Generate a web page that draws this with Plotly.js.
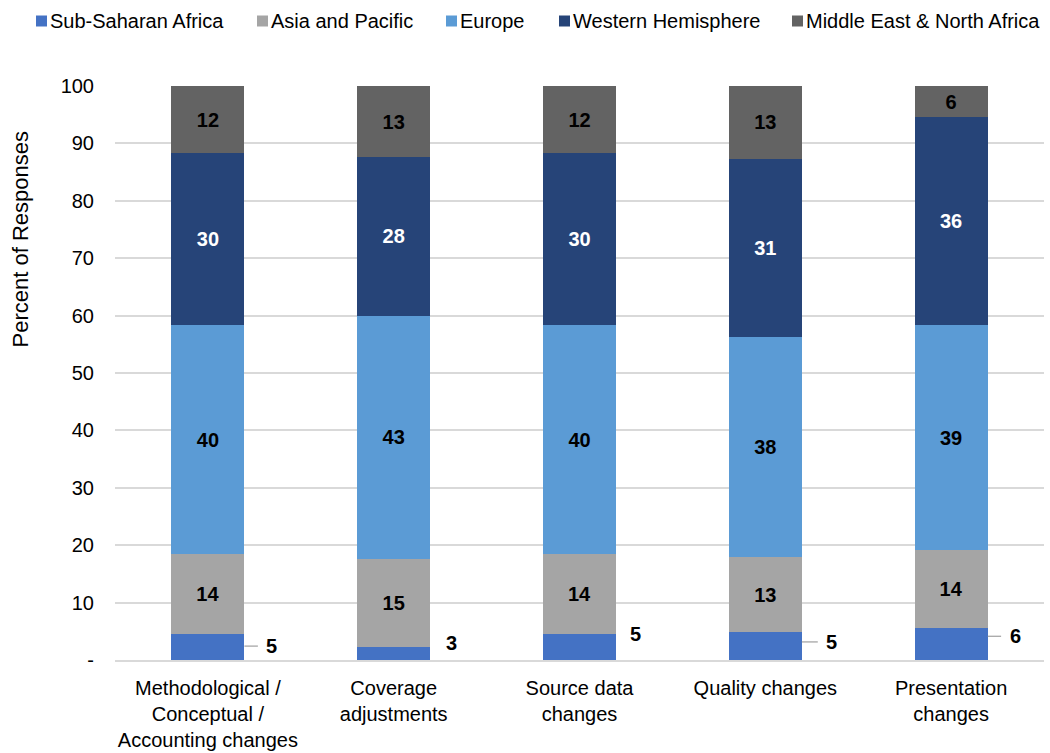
<!DOCTYPE html>
<html>
<head>
<meta charset="utf-8">
<script src="https://cdn.plot.ly/plotly-3.0.1.min.js"></script>
<style>
  html, body { margin: 0; padding: 0; background: #fff; }
  #chart { width: 1050px; height: 753px; }
</style>
</head>
<body>
<div id="chart"></div>
<script>
// ---- Data ----
const categories = [
  "Methodological /<br>Conceptual /<br>Accounting changes",
  "Coverage<br>adjustments",
  "Source data<br>changes",
  "Quality changes",
  "Presentation<br>changes"
];
const seriesNames = ["Sub-Saharan Africa", "Asia and Pacific", "Europe", "Western Hemisphere", "Middle East & North Africa"];

const subSaharanAfrica   = [4.5, 2.2, 4.5, 4.9, 5.5];
const asiaPacific        = [14.0, 15.4, 14.0, 13.0, 13.7];
const europe             = [39.8, 42.4, 39.8, 38.4, 39.1];
const westernHemisphere  = [30.0, 27.6, 30.0, 31.0, 36.3];
const middleEastNAfrica  = [11.7, 12.4, 11.7, 12.7, 5.4];

const subSaharanAfricaLabels  = ["5", "3", "5", "5", "6"];
const asiaPacificLabels       = ["14", "15", "14", "13", "14"];
const europeLabels            = ["40", "43", "40", "38", "39"];
const westernHemisphereLabels = ["30", "28", "30", "31", "36"];
const middleEastNAfricaLabels = ["12", "13", "12", "13", "6"];

const yTickVals = [0, 10, 20, 30, 40, 50, 60, 70, 80, 90, 100];
const yTickText = ["-", "10", "20", "30", "40", "50", "60", "70", "80", "90", "100"];

// ---- Style ----
const colors = ["#4472C4", "#A5A5A5", "#5B9BD5", "#264478", "#636363"];
const labelColors = ["#000000", "#000000", "#000000", "#FFFFFF", "#000000"];
const FONT = "Liberation Sans, Arial, sans-serif";
const W = 1050, H = 753;
const M = { l: 115, r: 6, t: 86, b: 93 };

// outside-label styling for the small Sub-Saharan Africa segments
const ssaLeader = [true, false, false, true, true];
const ssaDx     = [64, 58, 55.5, 66.5, 64];
const ssaDy     = [1, 11, 13, 4, 8];
const halfBarPx = 36.5;

// legend layout (pixel positions of the swatches)
const legendSwatchX = [36, 257, 446, 559, 792];
const legendY = 21, swatch = 11;

const values = [subSaharanAfrica, asiaPacific, europe, westernHemisphere, middleEastNAfrica];
const labels = [subSaharanAfricaLabels, asiaPacificLabels, europeLabels, westernHemisphereLabels, middleEastNAfricaLabels];

const traces = values.map((v, k) => ({
  type: "bar",
  name: seriesNames[k],
  x: categories,
  y: v,
  text: labels[k],
  texttemplate: "%{text}",
  textposition: k === 0 ? "none" : "inside",
  insidetextanchor: "middle",
  constraintext: "none",
  textfont: { family: FONT, size: 20, color: labelColors[k], weight: "bold" },
  marker: { color: colors[k], line: { width: 0 } },
  hoverinfo: "x+y+name",
  showlegend: false
}));

const annotations = subSaharanAfrica.map((v, i) => {
  const a = {
    x: categories[i],
    y: v / 2,
    xref: "x",
    yref: "y",
    text: subSaharanAfricaLabels[i],
    font: { family: FONT, size: 20, color: "#000000", weight: "bold" },
    yshift: ssaDy[i]
  };
  if (ssaLeader[i]) {
    a.showarrow = true;
    a.arrowhead = 0;
    a.arrowwidth = 1;
    a.arrowcolor = "#8c8c8c";
    a.xshift = halfBarPx;
    a.ax = ssaDx[i] - halfBarPx;
    a.ay = 0;
    a.borderpad = 8;
  } else {
    a.showarrow = false;
    a.xshift = ssaDx[i];
  }
  return a;
});

// y-axis title
annotations.push({
  xref: "paper", yref: "paper",
  x: -0.102, y: 0.733,
  xanchor: "center", yanchor: "middle",
  text: "Percent of Responses",
  textangle: -90,
  showarrow: false,
  font: { family: FONT, size: 22, color: "#000000" }
});

// legend: swatches (shapes) + texts (annotations)
const pw = W - M.l - M.r, ph = H - M.t - M.b;
const px2x = p => (p - M.l) / pw;
const py2y = p => (H - M.b - p) / ph;
const shapes = [];
seriesNames.forEach((name, k) => {
  const x0 = legendSwatchX[k];
  shapes.push({
    type: "rect", xref: "paper", yref: "paper",
    x0: px2x(x0), x1: px2x(x0 + swatch),
    y0: py2y(legendY + swatch / 2), y1: py2y(legendY - swatch / 2),
    fillcolor: colors[k], line: { width: 0 }
  });
  annotations.push({
    xref: "paper", yref: "paper",
    x: px2x(x0 + swatch + 1), y: py2y(legendY),
    xanchor: "left", yanchor: "middle",
    text: name, showarrow: false,
    font: { family: FONT, size: 20, color: "#000000" }
  });
});

const layout = {
  width: W,
  height: H,
  margin: M,
  paper_bgcolor: "#ffffff",
  plot_bgcolor: "#ffffff",
  barmode: "stack",
  bargap: 0.607,
  font: { family: FONT, size: 20, color: "#000000" },
  showlegend: false,
  xaxis: {
    type: "category",
    showgrid: false,
    showline: true,
    linecolor: "#d9d9d9",
    linewidth: 1.5,
    ticks: "",
    ticklabelstandoff: 9,
    tickfont: { family: FONT, size: 20, color: "#000000" },
    fixedrange: true
  },
  yaxis: {
    range: [0, 100],
    tickmode: "array",
    tickvals: yTickVals,
    ticktext: yTickText,
    showgrid: true,
    gridcolor: "#d9d9d9",
    gridwidth: 1.5,
    zeroline: false,
    showline: false,
    ticks: "",
    ticklabelstandoff: 20,
    tickfont: { family: FONT, size: 20, color: "#000000" },
    fixedrange: true
  },
  shapes: shapes,
  annotations: annotations
};

Plotly.newPlot("chart", traces, layout, { displayModeBar: false, responsive: false });
</script>
</body>
</html>
